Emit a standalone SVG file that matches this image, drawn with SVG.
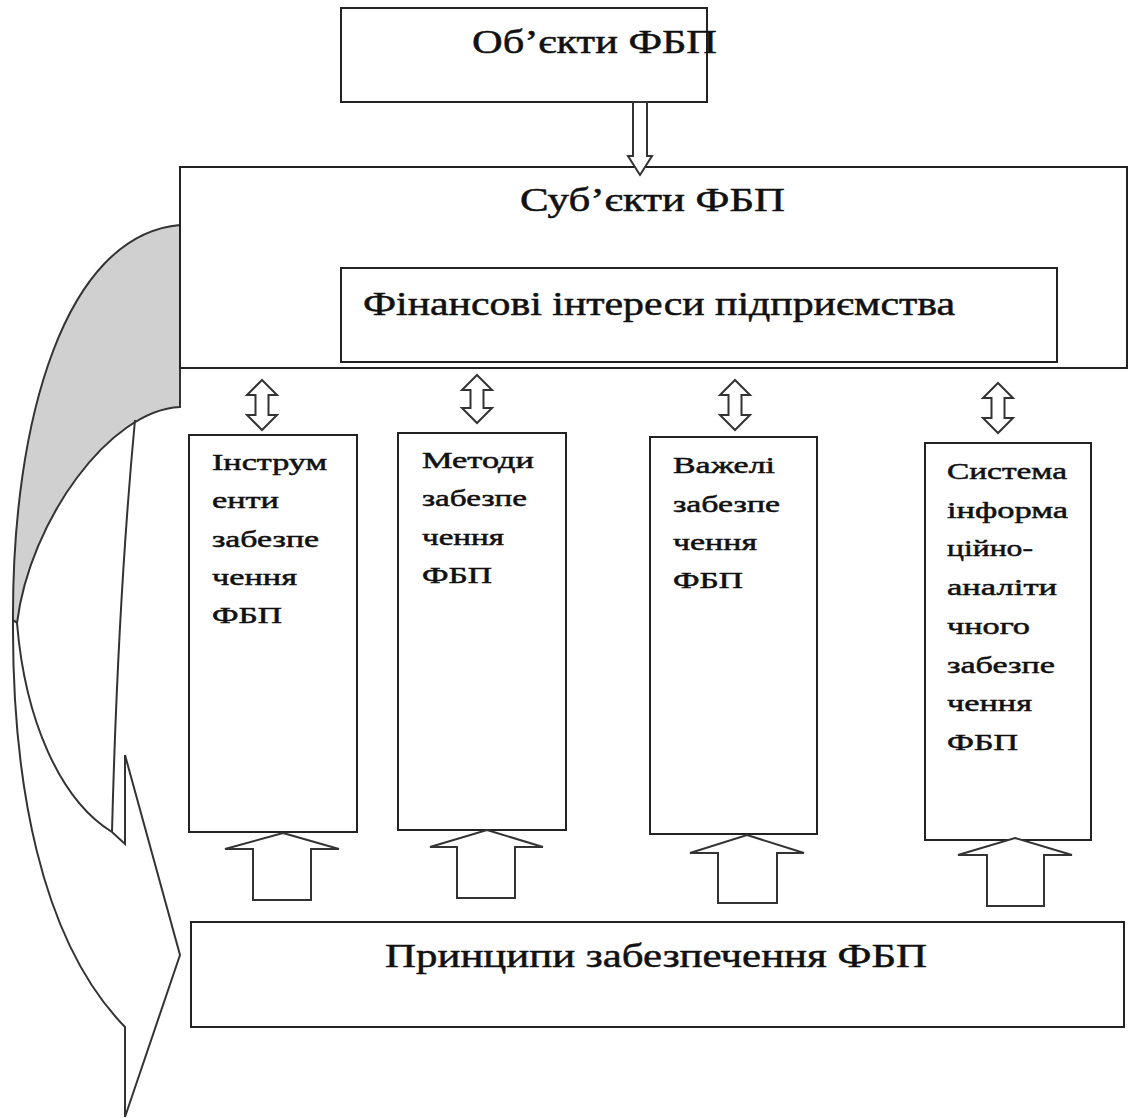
<svg xmlns="http://www.w3.org/2000/svg" width="1130" height="1118" viewBox="0 0 1130 1118">
<style>
.box{fill:#fff;stroke:#222;stroke-width:2}
.arr{fill:#fff;stroke:#333;stroke-width:2;stroke-linejoin:miter}
.t{font-family:"Liberation Serif","Times New Roman",serif;fill:#111;stroke:#111;stroke-width:0.5}
.big{font-size:33px}
.col{font-size:23px}
</style>
<rect width="1130" height="1118" fill="#fff"/>
<g id="curved-arrow">
<path d="M180,225 C65,235 12,420 13,620 L17,623 C30,520 110,410 180,407 Z" fill="#d0d0d0" stroke="#333" stroke-width="2"/>
<path d="M13,620 C12,780 40,940 125,1027 L125,1117 L180,955 L125,755 L125,844 L112,832 C60,800 25,720 17,623 Z" fill="#fff" stroke="#333" stroke-width="2"/>
<path d="M135,420 Q118,600 112,832" fill="none" stroke="#333" stroke-width="2"/>
</g>
<g id="objects">
<rect class="box" x="341" y="8" width="366" height="94"/>
<text class="t big" x="472" y="53" textLength="245" lengthAdjust="spacingAndGlyphs">Об’єкти ФБП</text>
</g>
<g id="subjects">
<rect class="box" x="180" y="167" width="947" height="201"/>
<text class="t big" x="520" y="211" textLength="265" lengthAdjust="spacingAndGlyphs">Суб’єкти ФБП</text>
</g>
<g id="interests">
<rect class="box" x="341" y="268" width="716" height="94"/>
<text class="t big" x="363" y="315" textLength="592" lengthAdjust="spacingAndGlyphs">Фінансові інтереси підприємства</text>
</g>
<g id="instruments">
<rect class="box" x="189" y="435" width="168" height="397"/>
<text class="t col" x="212" y="470" textLength="115" lengthAdjust="spacingAndGlyphs">Інструм</text>
<text class="t col" x="212" y="508" textLength="67" lengthAdjust="spacingAndGlyphs">енти</text>
<text class="t col" x="212" y="547" textLength="107" lengthAdjust="spacingAndGlyphs">забезпе</text>
<text class="t col" x="212" y="585" textLength="85" lengthAdjust="spacingAndGlyphs">чення</text>
<text class="t col" x="212" y="623" textLength="70" lengthAdjust="spacingAndGlyphs">ФБП</text>
</g>
<g id="methods">
<rect class="box" x="398" y="433" width="168" height="397"/>
<text class="t col" x="422" y="468" textLength="112" lengthAdjust="spacingAndGlyphs">Методи</text>
<text class="t col" x="422" y="506" textLength="105" lengthAdjust="spacingAndGlyphs">забезпе</text>
<text class="t col" x="422" y="545" textLength="82" lengthAdjust="spacingAndGlyphs">чення</text>
<text class="t col" x="422" y="583" textLength="70" lengthAdjust="spacingAndGlyphs">ФБП</text>
</g>
<g id="levers">
<rect class="box" x="650" y="437" width="167" height="397"/>
<text class="t col" x="673" y="473" textLength="102" lengthAdjust="spacingAndGlyphs">Важелі</text>
<text class="t col" x="673" y="512" textLength="107" lengthAdjust="spacingAndGlyphs">забезпе</text>
<text class="t col" x="673" y="550" textLength="84" lengthAdjust="spacingAndGlyphs">чення</text>
<text class="t col" x="673" y="588" textLength="70" lengthAdjust="spacingAndGlyphs">ФБП</text>
</g>
<g id="info-system">
<rect class="box" x="925" y="443" width="166" height="397"/>
<text class="t col" x="947" y="479" textLength="120" lengthAdjust="spacingAndGlyphs">Система</text>
<text class="t col" x="947" y="518" textLength="121" lengthAdjust="spacingAndGlyphs">інформа</text>
<text class="t col" x="947" y="556" textLength="86" lengthAdjust="spacingAndGlyphs">ційно-</text>
<text class="t col" x="947" y="595" textLength="110" lengthAdjust="spacingAndGlyphs">аналіти</text>
<text class="t col" x="947" y="634" textLength="83" lengthAdjust="spacingAndGlyphs">чного</text>
<text class="t col" x="947" y="673" textLength="108" lengthAdjust="spacingAndGlyphs">забезпе</text>
<text class="t col" x="947" y="711" textLength="85" lengthAdjust="spacingAndGlyphs">чення</text>
<text class="t col" x="947" y="750" textLength="71" lengthAdjust="spacingAndGlyphs">ФБП</text>
</g>
<g id="principles">
<rect class="box" x="191" y="922" width="933" height="105"/>
<text class="t big" x="385" y="967" textLength="542" lengthAdjust="spacingAndGlyphs">Принципи забезпечення ФБП</text>
</g>
<g id="connectors">
<polygon class="arr" points="633,102 647,102 647,156 652,156 640,175 628,156 633,156"/>
<polygon class="arr" points="262,380 277,395 268.5,395 268.5,415 277,415 262,430 247,415 255.5,415 255.5,395 247,395"/>
<polygon class="arr" points="477,375 492,390 483.5,390 483.5,408 492,408 477,423 462,408 470.5,408 470.5,390 462,390"/>
<polygon class="arr" points="735,380 750,395 741.5,395 741.5,415 750,415 735,430 720,415 728.5,415 728.5,395 720,395"/>
<polygon class="arr" points="998,383 1013,398 1004.5,398 1004.5,418 1013,418 998,433 983,418 991.5,418 991.5,398 983,398"/>
<polygon class="arr" points="283,833 339,849 311,849 311,900 253,900 253,849 225,849"/>
<polygon class="arr" points="487,830 543,847 515,847 515,898 457,898 457,847 430,847"/>
<polygon class="arr" points="747,835 804,853 777,853 777,903 718,903 718,853 690,853"/>
<polygon class="arr" points="1015,838 1072,855 1044,855 1044,906 987,906 987,855 958,855"/>
</g>
</svg>
